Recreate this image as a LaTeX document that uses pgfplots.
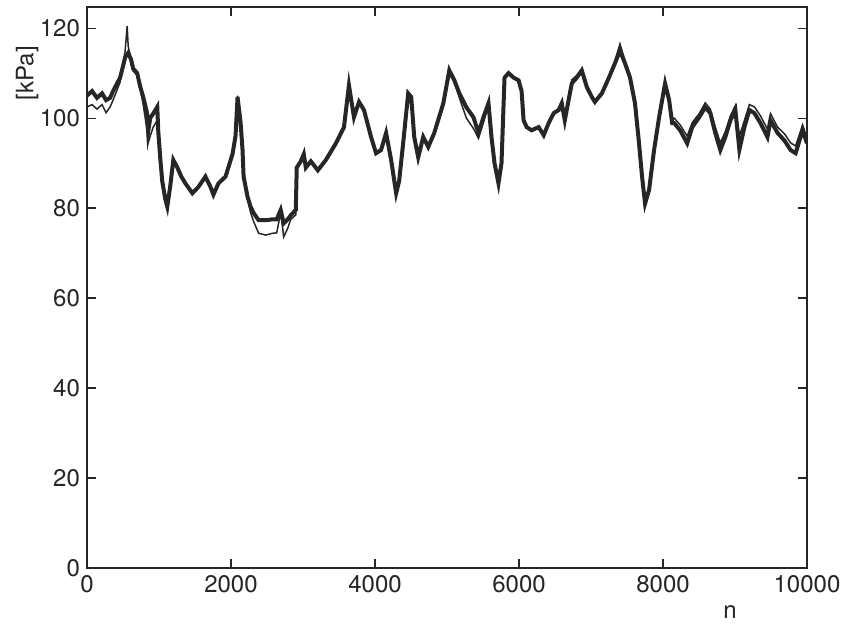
\documentclass[border=0pt]{standalone}
\usepackage{fontspec}
\setmainfont{TeX Gyre Heros}
\usepackage{pgfplots}
\pgfplotsset{compat=1.18}
\begin{document}
\begin{tikzpicture}
\useasboundingbox (-43.5pt,-28pt) rectangle (377pt,284pt);
\begin{axis}[
  scale only axis, width=360pt, height=280.5pt,
  xmin=0, xmax=10000, ymin=0, ymax=124.7,
  xtick={0,2000,4000,6000,8000,10000},
  ytick={0,20,40,60,80,100,120},
  scaled x ticks=false,
  /pgf/number format/1000 sep={},
  /pgf/number format/assume math mode=true,
  tick align=inside, major tick length=4.5pt,
  tick style={black!85, line width=0.6pt},
  axis line style={black!85, line width=0.7pt},
  tick label style={font=\fontsize{12}{14}\selectfont, text=black!85},
  label style={font=\fontsize{12}{14}\selectfont, text=black!85},
  xlabel={n}, ylabel={[kPa]},
  xlabel style={at={(axis description cs:0.893,-0.078)}, anchor=center},
  ylabel style={at={(axis description cs:-0.083,0.882)}, anchor=center, rotate=0},
]
% thin line
\addplot[black!85, line width=0.75pt] coordinates {
(0,102.5)(70,103)(139,102)(209,103)(265,101.2)(321,102.5)(362,104)(460,108)(530,115)(558,120.5)(572,116)(613,113)(641,110.5)(697,109.5)(739,106.5)(781,103)(836,97)(850,94.5)(878,96)(920,98)(976,99.5)(990,96.5)(1018,91)(1045,86)(1087,82)(1115,80.5)(1157,85)(1199,90.5)(1255,89)(1310,87)(1366,85.5)(1464,83.3)(1547,84.7)(1645,87)(1715,84.7)(1756,83)(1826,85.5)(1924,87)(2021,92)(2063,96)(2091,105)(2133,99)(2160,93)(2175,87)(2230,82)(2272,79)(2314,77)(2384,74.4)(2481,74)(2579,74.4)(2635,74.5)(2690,79)(2732,73.6)(2788,75.5)(2830,77.5)(2900,78.5)(2913,89)(2969,90.4)(3011,92)(3039,89)(3109,90.4)(3206,88.4)(3318,90.7)(3457,94.4)(3569,98)(3638,107.5)(3708,100.2)(3778,103.6)(3847,101.8)(3945,95.8)(4015,92.2)(4084,92.9)(4154,96.7)(4224,90.7)(4294,83.3)(4335,86)(4391,94.4)(4461,105.5)(4503,104.7)(4545,95.8)(4600,91.3)(4670,95.8)(4740,93.6)(4823,96.7)(4949,103.3)(5032,111)(5102,108)(5172,104.5)(5269,100)(5367,97.7)(5437,95.5)(5506,99)(5576,103)(5618,95.8)(5660,90)(5715,85.5)(5757,90)(5799,109)(5855,110)(5925,109)(5994,108.4)(6036,106)(6064,99.5)(6106,98)(6175,97.3)(6273,98)(6343,96.2)(6412,98.9)(6482,101.1)(6552,101.8)(6594,103.3)(6636,99.5)(6691,104.2)(6733,108.5)(6803,109.5)(6872,111)(6942,106.9)(7012,104.7)(7054,103.6)(7151,105.5)(7249,109)(7333,112.8)(7402,116.5)(7472,112.8)(7542,109)(7611,103.3)(7667,94.4)(7709,87)(7751,81.5)(7806,84)(7876,92.9)(7946,100.2)(8029,107.7)(8085,104)(8127,99.5)(8155,100)(8238,98.5)(8336,96)(8406,99)(8503,101)(8587,103.4)(8657,102)(8726,98)(8796,94.5)(8866,97)(8936,100.5)(9005,102.8)(9061,96)(9131,99.5)(9200,103)(9270,102.5)(9354,100.5)(9451,97.5)(9493,101)(9591,98)(9688,96.5)(9772,94.5)(9842,93.8)(9939,98.5)(10000,95.5)
};
% thick line
\addplot[black!85, line width=2pt] coordinates {
(0,105)(70,106)(139,104.5)(209,105.5)(265,104)(321,104.5)(362,106)(460,109)(530,113.5)(572,114.5)(613,113)(641,111)(697,110)(739,107)(781,104.7)(836,101)(850,97)(878,100)(920,101)(976,102.5)(990,97)(1018,91)(1045,86)(1087,82)(1115,80.3)(1157,85)(1199,90.7)(1255,89)(1310,87)(1366,85.5)(1464,83.3)(1547,84.7)(1645,87)(1715,84.7)(1756,83)(1826,85.5)(1924,87)(2021,92)(2063,96)(2091,104.7)(2133,99)(2160,93)(2175,87)(2230,82.5)(2272,80.3)(2314,78.9)(2384,77.3)(2481,77.3)(2579,77.5)(2635,77.5)(2690,79.6)(2732,76.6)(2788,77.5)(2830,78.4)(2900,79.6)(2913,89)(2969,90.4)(3011,92)(3039,89)(3109,90.4)(3206,88.4)(3318,90.7)(3457,94.4)(3569,98)(3638,107.3)(3708,100.2)(3778,103.6)(3847,101.8)(3945,95.8)(4015,92.2)(4084,92.9)(4154,96.7)(4224,90.7)(4294,83.3)(4335,86)(4391,94.4)(4461,105.5)(4503,104.7)(4545,95.8)(4600,91.3)(4670,95.8)(4740,93.6)(4823,96.7)(4949,103.3)(5032,110.6)(5102,108.4)(5172,105.5)(5269,102.4)(5367,100.2)(5437,96.7)(5506,100.2)(5576,103.3)(5618,95.8)(5660,90)(5715,85.5)(5757,90)(5799,109)(5855,110)(5925,109)(5994,108.4)(6036,106)(6064,99.5)(6106,98)(6175,97.3)(6273,98)(6343,96.2)(6412,98.9)(6482,101.1)(6552,101.8)(6594,103.3)(6636,99.5)(6691,104.2)(6733,107.7)(6803,109)(6872,110.6)(6942,106.9)(7012,104.7)(7054,103.6)(7151,105.5)(7249,109)(7333,112.2)(7402,115)(7472,112.2)(7542,109)(7611,103.3)(7667,94.4)(7709,87)(7751,81)(7806,84)(7876,92.9)(7946,100.2)(8029,107.7)(8085,104)(8127,98.9)(8155,98.9)(8238,97.3)(8336,94.4)(8406,98)(8503,100.2)(8587,102.4)(8657,101.1)(8726,96.7)(8796,92.9)(8866,95.8)(8936,99.5)(9005,101.8)(9061,93)(9131,98)(9200,101.8)(9270,101.1)(9354,98.9)(9451,95.8)(9493,99.5)(9591,96.7)(9688,95)(9772,92.9)(9842,92.2)(9939,97.3)(10000,94.4)
};
\end{axis}
\end{tikzpicture}
\end{document}
